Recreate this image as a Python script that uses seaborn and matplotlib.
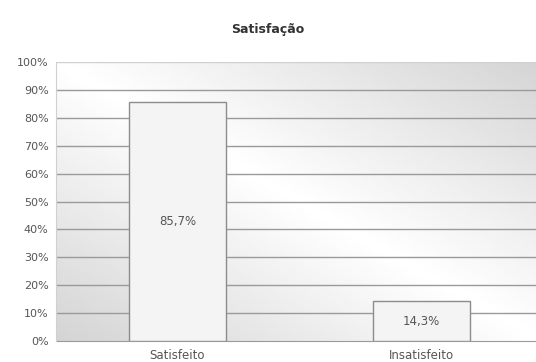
import numpy as np
import pandas as pd
import matplotlib
matplotlib.use("Agg")
import matplotlib.pyplot as plt
import seaborn as sns

categories = ["Satisfeito", "Insatisfeito"]
values = [85.7, 14.3]
labels = ["85,7%", "14,3%"]
yticks = [0, 10, 20, 30, 40, 50, 60, 70, 80, 90, 100]
title = "Satisfação"

sns.set_style("white")
plt.rcParams['font.family'] = ['DejaVu Sans']

fig = plt.figure(figsize=(5.36, 3.62), dpi=100)
ax = fig.add_axes([55.5/536, 1 - 341/362, 488/536, 279/362])

# background gradient
gx, gy = np.meshgrid(np.linspace(0, 1, 200), np.linspace(0, 1, 200))
g = np.abs(gx + gy - 1.0)
shade = 1.0 - 0.17 * g
ax.imshow(shade, extent=[-0.5, 1.5, 0, 100], origin="lower", cmap="gray",
          vmin=0, vmax=1, aspect="auto", zorder=0, interpolation="bilinear")

df = pd.DataFrame({"cat": categories, "val": values})
sns.barplot(data=df, x="cat", y="val", ax=ax, color="#f4f4f4", width=0.4,
            edgecolor="#8c8c8c", linewidth=1.0, zorder=3, saturation=1)

for y in yticks[1:-1]:
    ax.axhline(y, color="#9a9a9a", lw=1.0, zorder=1)
ax.axhline(100, color="#d0d0d0", lw=1.0, zorder=1)

for i, (v, lab) in enumerate(zip(values, labels)):
    ax.text(i, v / 2, lab, ha="center", va="center", fontsize=8.5, color="#555555", zorder=5)

ax.set_xlim(-0.5, 1.5)
ax.set_ylim(0, 100)
ax.set_yticks(yticks)
ax.set_yticklabels([f"{t}%" for t in yticks], fontsize=8, color="#555555")
ax.set_xticklabels(categories, fontsize=8.5, color="#555555")
ax.tick_params(axis="x", length=0, pad=6)
ax.tick_params(axis="y", length=0, pad=5)
ax.set_xlabel("")
ax.set_ylabel("")
for s in ["top", "right"]:
    ax.spines[s].set_visible(False)
ax.spines["left"].set_color("#d0d0d0")
ax.spines["bottom"].set_color("#9a9a9a")
ax.spines["left"].set_zorder(4)

fig.text(0.5, 1 - 30/362, title, ha="center", va="center", fontsize=9,
         fontweight="bold", color="#333333")

fig.savefig("out.png", dpi=100)
